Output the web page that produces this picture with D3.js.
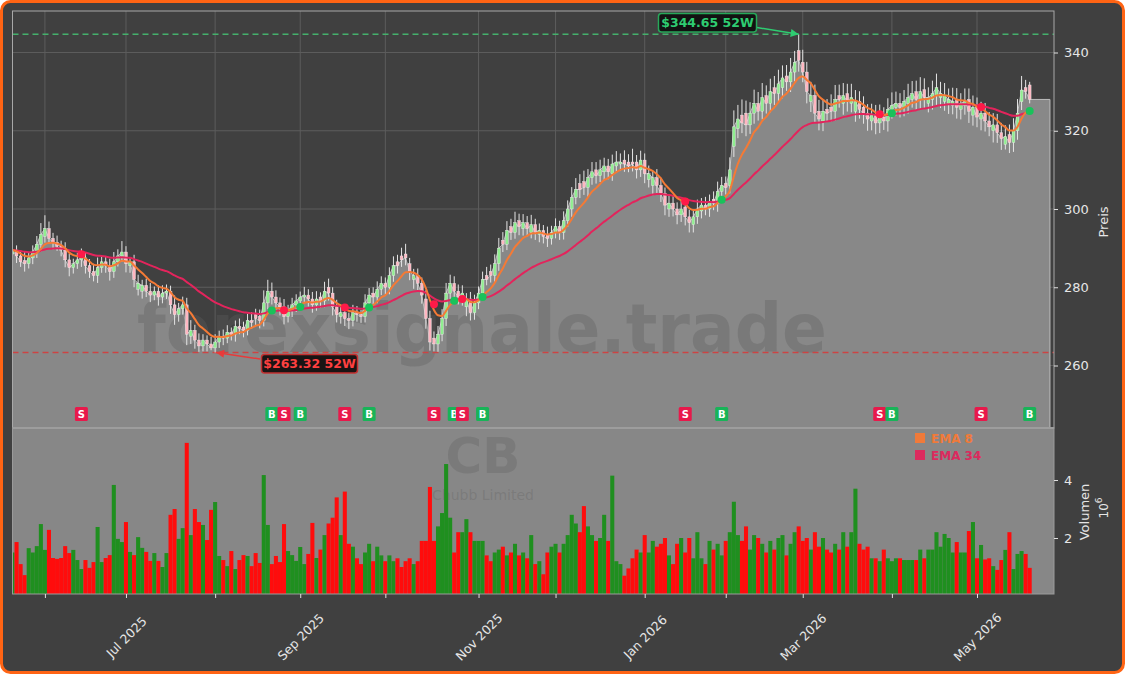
<!DOCTYPE html>
<html>
<head>
<meta charset="utf-8">
<script src="https://cdn.jsdelivr.net/npm/d3@7"></script>
<style>
  body { margin: 0; background: #ffffff; }
  svg { display: block; }
  text { font-family: "DejaVu Sans", sans-serif; }
</style>
</head>
<body>
<svg id="chart" width="1125" height="674"></svg>
<script>
// ---- data ----
var holidays = ['2025-05-26', '2025-06-19', '2025-07-04', '2025-09-01', '2025-11-27',
    '2025-12-25', '2026-01-01', '2026-01-19', '2026-02-16', '2026-04-03'];

var opens = [
    288.5, 289.5, 288, 286.8, 286, 287.5, 289, 291, 293, 295,
    292.5, 291.5, 290.8, 289.5, 287, 285, 286, 287, 287.5, 285.5,
    284, 283, 285, 286.5, 285.5, 284, 286.5, 288, 289, 285.5,
    286.5, 279.5, 279, 280.5, 279, 278, 279, 277.5, 278.5, 279,
    275.5, 273, 274.5, 275.5, 267.5, 269, 266.5, 265, 266.5, 265.5,
    264.5, 266, 267.5, 267, 268.5, 268, 270, 269.8, 269, 271.5,
    273, 272.5, 271.5, 276, 279, 277.5, 276, 275, 272.5, 274,
    275.5, 276.5, 277.5, 278, 277, 275.5, 277.5, 276.5, 280, 278.5,
    275, 272.5, 273.5, 272, 271.5, 273.5, 273, 272.5, 276, 278.5,
    277.5, 279.5, 281, 280, 283, 286.5, 288, 288.5, 286, 282,
    283, 281, 277, 272, 267, 265.5, 268, 272, 278.5, 281,
    279, 277.5, 275, 277, 273.5, 276, 278.5, 283, 284, 283,
    286, 292, 291, 295.5, 294, 297, 295, 296.5, 294, 296,
    293.5, 294.5, 293.5, 292.5, 294, 295.5, 294, 297, 300, 303,
    306.5, 307, 305.5, 308, 310, 308.5, 309.5, 311, 309, 311,
    311.5, 312.5, 312, 312, 312, 310, 312.5, 307.5, 306, 308,
    306, 304, 300, 301.5, 300, 298.5, 300.5, 298, 296, 298,
    299.5, 301, 300, 302.5, 301.5, 304.5, 306.5, 306, 316, 320.5,
    324, 324.5, 321.5, 324.5, 327, 325, 329, 327, 331, 329.5,
    331, 334, 332.5, 335, 340.5, 337.5, 335, 327.5, 329, 325,
    322.5, 325.5, 326, 325, 329, 327, 329.5, 327, 325, 327.5,
    326, 324.5, 322.5, 324, 322, 323.5, 322.5, 325.5, 326, 327,
    326, 327, 328, 330, 328, 330.5, 327, 328, 329, 328.5,
    327.5, 327, 326.5, 328, 325.5, 326.5, 328, 324, 326, 323,
    324.5, 322.5, 320, 321.5, 319.5, 316.5, 319, 317, 320, 327.4, 331, 331.7
];

var closes = [
    289.5, 288, 286.5, 286, 287.5, 289, 291, 293.5, 295, 292.5,
    291.5, 290.5, 289.5, 287, 285, 286, 287, 287.5, 285.5, 284,
    283, 285, 286.5, 285.5, 284, 286.5, 288, 289, 286, 286.5,
    282, 281, 280.5, 279, 278, 279, 277.5, 278.5, 279, 275.5,
    273, 274.5, 275.5, 268, 269, 266.5, 265, 266.5, 265.5, 264.5,
    266, 267.5, 267, 268.5, 268, 270, 269.5, 269, 271.5, 271,
    272, 271.5, 276, 279, 277.5, 276, 275, 272.5, 274, 275.5,
    276.5, 277.5, 278, 277, 275.5, 277, 276.5, 279, 278.5, 275,
    273, 273.5, 272, 271.5, 273.5, 273, 272.5, 276, 278, 277.5,
    279.5, 281, 280, 283, 285.5, 285.5, 287, 287.5, 284, 283,
    281, 278, 272, 266, 265.5, 268, 272, 278.5, 281, 279,
    277.5, 278.5, 277, 273.5, 276, 278.5, 282, 282, 283, 286,
    290, 291, 294.5, 294, 296.5, 295.5, 296.5, 295, 296, 294,
    294.5, 293, 292.5, 294, 295.5, 294, 297, 300, 303, 305,
    305, 305.5, 308, 309.5, 308.5, 310, 311, 309.5, 311.5, 312,
    312, 311.5, 311, 311.5, 310, 312.5, 309, 309, 308, 306,
    304, 301, 301.5, 300, 298.5, 300, 298, 296.5, 298, 300,
    301, 300, 302, 301.5, 304.5, 306, 305.5, 310, 321, 323,
    322, 321.5, 324.5, 327, 325, 328.5, 327, 330, 329.5, 332,
    333.5, 332.5, 335, 337.5, 338, 335, 330, 329, 324.5, 323,
    325, 324.5, 325, 328, 328, 329, 327.5, 328.5, 327.5, 325.5,
    324.5, 323, 324, 322, 323.5, 322.5, 325.5, 326.5, 327, 326,
    327.5, 328.5, 329.5, 328, 330, 328.5, 328.5, 329.5, 331, 329.5,
    329, 328, 327.5, 326, 327, 327.5, 325, 326, 323.5, 324.5,
    322.5, 321, 321.5, 319.5, 318, 318.5, 317, 320, 324.5, 330.4, 330, 328
];

// wick lengths above the body top / below the body bottom, in $
var upperWicks = [
    1.8, 1.2, 1.5, 2.2, 1.4, 1.7, 2.1, 2.9, 3.4, 1.8,
    1.4, 1.7, 1.1, 2.0, 1.5, 1.3, 1.8, 2.4, 1.4, 1.7,
    2.0, 2.6, 1.5, 1.4, 1.8, 2.5, 1.7, 2.8, 1.5, 1.2,
    1.8, 2.2, 1.4, 1.7, 2.1, 1.2, 1.5, 2.0, 1.7, 1.4,
    2.4, 1.5, 2.1, 1.8, 2.6, 1.4, 1.7, 1.5, 1.2, 1.8,
    2.0, 1.4, 1.7, 1.8, 1.2, 1.5, 2.0, 1.4, 1.7, 2.1,
    1.5, 1.8, 3.2, 2.9, 2.2, 1.7, 1.4, 2.0, 1.5, 1.8,
    1.7, 1.4, 2.1, 1.5, 1.8, 2.0, 1.2, 2.4, 2.2, 1.5,
    1.8, 2.1, 1.4, 1.5, 2.0, 1.7, 1.2, 2.2, 1.8, 1.5,
    2.0, 1.8, 1.5, 2.1, 2.4, 1.8, 2.1, 2.6, 1.5, 1.7,
    1.8, 1.5, 2.2, 2.0, 1.7, 2.1, 2.4, 2.6, 2.2, 1.8,
    1.7, 2.0, 1.5, 1.8, 2.1, 1.7, 2.0, 2.2, 1.8, 2.4,
    2.6, 2.1, 2.4, 2.0, 2.8, 1.8, 2.2, 1.7, 2.5, 1.5,
    1.8, 1.4, 2.0, 1.7, 2.1, 1.5, 2.4, 2.2, 2.6, 2.9,
    2.4, 2.8, 2.2, 2.5, 2.0, 2.6, 2.1, 1.8, 2.4, 2.8,
    2.2, 2.5, 2.0, 3.4, 1.8, 2.4, 1.7, 2.1, 1.8, 2.2,
    2.0, 1.5, 2.1, 1.8, 1.7, 2.2, 1.5, 1.8, 2.0, 2.4,
    1.8, 2.1, 1.7, 2.0, 2.5, 2.2, 1.8, 3.2, 4.2, 3.6,
    4.0, 3.2, 2.8, 3.5, 2.9, 3.7, 2.6, 3.3, 3.0, 3.6,
    3.2, 2.8, 3.6, 2.9, 4.15, 3.2, 2.6, 3.5, 2.8, 2.9,
    3.0, 2.6, 3.3, 3.7, 2.8, 3.2, 2.5, 3.5, 2.9, 2.6,
    2.8, 2.3, 2.9, 2.6, 3.2, 2.5, 2.8, 3.3, 3.0, 2.6,
    2.9, 3.5, 3.2, 2.8, 3.7, 2.9, 2.6, 3.3, 3.6, 3.0,
    3.2, 2.8, 3.5, 2.9, 2.6, 3.3, 2.8, 3.0, 2.5, 2.9,
    2.6, 2.3, 3.0, 2.8, 2.5, 2.9, 2.6, 3.2, 3.6, 3.6, 2.0, 0.8
];
var lowerWicks = [
    1.5, 1.8, 1.3, 2.0, 1.2, 1.6, 1.5, 1.9, 1.6, 1.3,
    1.8, 1.2, 1.6, 1.9, 2.2, 1.5, 1.3, 1.8, 2.0, 1.6,
    1.5, 1.9, 1.3, 1.8, 2.3, 1.6, 1.2, 1.5, 2.2, 1.8,
    2.0, 1.6, 1.9, 1.5, 1.8, 1.3, 2.2, 1.6, 1.5, 2.3,
    2.6, 1.8, 1.5, 2.8, 2.0, 2.2, 1.5, 1.4, 1.9, 0.6,
    1.18, 1.5, 1.8, 1.3, 1.6, 1.9, 1.5, 1.8, 1.3, 1.6,
    1.8, 2.0, 1.5, 1.6, 1.9, 1.8, 2.2, 2.0, 1.5, 1.6,
    1.8, 1.5, 1.6, 1.9, 2.0, 1.5, 1.8, 1.6, 1.9, 2.2,
    2.0, 1.8, 1.9, 2.2, 1.5, 1.8, 1.6, 1.5, 1.9, 1.8,
    1.6, 1.5, 1.9, 1.8, 1.6, 2.0, 1.8, 1.9, 2.2, 2.4,
    1.9, 2.2, 2.6, 2.2, 1.9, 2.0, 1.8, 1.9, 1.6, 2.0,
    1.9, 2.2, 2.4, 2.0, 1.8, 1.6, 1.9, 1.5, 1.8, 1.6,
    1.8, 2.0, 1.5, 1.9, 1.6, 2.2, 1.8, 2.0, 1.5, 1.9,
    2.0, 1.8, 2.2, 1.6, 1.5, 1.9, 1.8, 1.6, 2.0, 1.8,
    2.2, 1.9, 2.4, 1.8, 2.0, 1.6, 2.2, 1.9, 1.8, 1.5,
    1.8, 2.0, 1.6, 1.9, 2.2, 1.8, 2.4, 2.0, 2.5, 1.9,
    2.2, 2.6, 2.0, 1.9, 2.4, 1.8, 2.2, 2.5, 2.0, 1.8,
    1.9, 1.6, 2.0, 1.8, 2.2, 1.9, 1.8, 2.0, 2.7, 2.4,
    2.6, 2.9, 2.3, 2.7, 2.4, 2.1, 2.6, 2.3, 2.9, 2.4,
    2.7, 2.3, 2.6, 2.4, 2.9, 2.6, 3.0, 2.7, 2.4, 2.9,
    2.6, 2.3, 2.7, 2.4, 2.1, 2.9, 2.6, 2.3, 2.7, 2.4,
    2.7, 3.0, 2.4, 2.9, 2.6, 2.3, 2.7, 2.4, 2.1, 2.6,
    2.3, 2.6, 2.1, 2.7, 2.4, 2.9, 2.3, 2.6, 2.4, 2.7,
    2.4, 2.7, 2.3, 2.9, 2.6, 2.4, 3.0, 2.7, 2.6, 2.9,
    2.7, 2.4, 3.0, 2.6, 2.9, 1.3, 2.7, 2.4, 2.3, 2.1, 1.8, 1.0
];

// volume in millions
var volumes = [
    1.5, 1.86, 1.1, 0.72, 1.65, 1.5, 1.72, 2.48, 1.59, 2.28,
    1.31, 1.28, 1.31, 1.72, 1.48, 1.59, 1.24, 0.93, 1.24, 0.97,
    1.17, 2.38, 1.17, 1.31, 1.41, 3.83, 1.97, 1.86, 2.55, 1.52,
    1.41, 2.03, 1.66, 1.52, 1.21, 1.48, 1.21, 1.0, 1.48, 2.8,
    3.0, 1.97, 2.34, 5.28, 2.1, 3.0, 2.55, 2.45, 1.93, 2.97,
    3.24, 1.38, 1.24, 1.03, 1.55, 0.93, 1.24, 1.41, 1.38, 1.03,
    1.48, 1.14, 4.17, 2.45, 1.1, 1.38, 1.17, 2.48, 1.55, 1.41,
    1.21, 1.69, 1.1, 1.45, 2.52, 1.31, 1.6, 2.1, 2.5, 2.7,
    3.4, 2.1, 3.6, 1.8, 1.7, 1.3, 1.1, 1.5, 1.8, 1.2,
    1.7, 1.4, 1.2, 1.4, 1.2, 1.3, 1.0, 1.2, 1.3, 1.1,
    1.2, 1.9, 1.9, 3.76, 1.9, 2.4, 2.86, 4.55, 2.7, 1.5,
    2.2, 2.2, 2.65, 2.2, 1.9, 1.9, 1.9, 1.4, 1.2, 1.5,
    1.6, 1.7, 1.4, 1.5, 1.8, 1.4, 1.5, 1.3, 2.1, 1.1,
    1.2, 0.75, 1.5, 1.7, 1.8, 1.5, 1.8, 2.1, 2.8, 2.5,
    2.2, 3.1, 2.4, 2.1, 1.9, 2.0, 2.8, 1.9, 4.15, 1.2,
    1.1, 0.7, 0.95, 1.3, 1.6, 1.5, 2.1, 1.5, 1.9, 1.7,
    1.8, 2.0, 1.4, 1.1, 1.8, 2.0, 1.5, 2.0, 1.3, 2.2,
    1.3, 1.1, 1.9, 1.6, 1.8, 1.4, 1.9, 2.2, 3.25, 2.1,
    1.9, 2.4, 1.6, 2.1, 2.0, 1.8, 1.5, 1.9, 1.6, 2.0,
    2.1, 1.4, 1.8, 2.2, 2.4, 1.9, 2.0, 1.6, 2.2, 1.7,
    2.0, 1.6, 1.5, 1.8, 1.6, 2.2, 1.7, 2.2, 3.7, 1.8,
    1.6, 1.7, 1.3, 1.3, 1.2, 1.6, 1.3, 1.2, 1.3, 1.3,
    1.24, 1.24, 1.24, 1.24, 1.6, 1.3, 1.6, 1.6, 2.2, 1.7,
    2.14, 2.0, 1.5, 1.86, 1.5, 1.5, 2.24, 2.55, 1.3, 1.76,
    1.26, 1.3, 1.03, 0.9, 1.24, 1.59, 2.2, 0.93, 1.45, 1.55, 1.45, 0.97
];

// EMA crossover signals: bar index and type
var signalIdx = [17, 64, 67, 71, 82, 88, 104, 109, 111, 116, 166, 175, 214, 217, 239, 251];
var signalType = ['S', 'B', 'S', 'B', 'S', 'B', 'S', 'B', 'S', 'B', 'S', 'B', 'S', 'B', 'S', 'B'];

var priceTicks = [260, 280, 300, 320, 340];
var volumeTicks = [2, 4];
var high52 = 344.65, low52 = 263.32;
var high52Idx = 194, low52Idx = 50;

// trading day calendar
var fmtKey = d3.timeFormat('%Y-%m-%d');
var dates = [];
for (var d = new Date(2025, 4, 20); d <= new Date(2026, 4, 20); d.setDate(d.getDate() + 1)) {
    var dow = d.getDay();
    if (dow === 0 || dow === 6) continue;
    if (holidays.indexOf(fmtKey(d)) >= 0) continue;
    dates.push(new Date(d));
}

var bars = closes.map(function (c, i) {
    var o = opens[i];
    return {
        i: i, date: dates[i], o: o, c: c,
        h: Math.max(o, c) + upperWicks[i],
        l: Math.min(o, c) - lowerWicks[i],
        v: volumes[i],
        up: c >= o
    };
});

function ema(values, n) {
    var k = 2 / (n + 1), prev, out = [];
    values.forEach(function (v, i) {
        prev = i === 0 ? v : v * k + prev * (1 - k);
        out.push(prev);
    });
    return out;
}
var ema8 = ema(closes, 8);
var ema34 = ema(closes, 34);

// ---- layout ----
var W = 1125, H = 674;
var pad = { l: 12.5, r: 1054, t: 11, mid: 428, b: 594 };

var svg = d3.select('#chart');

svg.append('rect')
    .attr('x', 1.5).attr('y', 1.5)
    .attr('width', W - 3).attr('height', H - 3)
    .attr('rx', 9)
    .attr('fill', '#404040')
    .attr('stroke', '#ff6414')
    .attr('stroke-width', 3);

var defs = svg.append('defs');
defs.append('clipPath').attr('id', 'clipPrice').append('rect')
    .attr('x', pad.l).attr('y', pad.t).attr('width', pad.r - pad.l).attr('height', pad.mid - pad.t);
defs.append('clipPath').attr('id', 'clipVol').append('rect')
    .attr('x', pad.l).attr('y', pad.mid).attr('width', pad.r - pad.l).attr('height', pad.b - pad.mid);

function arrowMarker(id, color) {
    defs.append('marker')
        .attr('id', id)
        .attr('viewBox', '0 0 10 10')
        .attr('refX', 10).attr('refY', 5)
        .attr('markerWidth', 9).attr('markerHeight', 8)
        .attr('markerUnits', 'userSpaceOnUse')
        .attr('orient', 'auto')
        .append('path').attr('d', 'M0,0 L10,5 L0,10 z').attr('fill', color);
}
arrowMarker('arrHigh', '#2ecc71');
arrowMarker('arrLow', '#e83a3a');

// scales
var x = d3.scaleLinear().domain([0, 257]).range([pad.l, pad.r]);
var yPrice = d3.scaleLinear().domain([260, 340]).range([365.5, 52.5]);
var yVol = d3.scaleLinear().domain([0, 4]).range([596, 480]);

// month ticks = first trading day of each month
var monthIdx = [];
for (var i = 1; i < dates.length; i++) {
    if (dates[i].getMonth() !== dates[i - 1].getMonth()) monthIdx.push(i);
}
var fmtMonth = d3.timeFormat('%b %Y');

// ---- price panel ----
var priceG = svg.append('g');

priceG.selectAll('.vgrid')
    .data(monthIdx)
    .enter().append('line')
    .attr('x1', function (d) { return x(d); })
    .attr('x2', function (d) { return x(d); })
    .attr('y1', pad.t).attr('y2', pad.mid)
    .attr('stroke', '#5c5c5c').attr('stroke-width', 1);

priceG.selectAll('.hgrid')
    .data(priceTicks)
    .enter().append('line')
    .attr('x1', pad.l).attr('x2', pad.r)
    .attr('y1', function (d) { return yPrice(d); })
    .attr('y2', function (d) { return yPrice(d); })
    .attr('stroke', '#5c5c5c').attr('stroke-width', 1);

var plotG = priceG.append('g').attr('clip-path', 'url(#clipPrice)');

var areaData = bars.map(function (b) { return { i: b.i, c: b.c }; });
areaData.push({ i: 256, c: closes[closes.length - 1] });

plotG.append('path')
    .datum(areaData)
    .attr('fill', '#888888')
    .attr('stroke', '#bdbdbd')
    .attr('stroke-width', 1)
    .attr('d', d3.area()
        .x(function (d) { return x(d.i); })
        .y0(pad.mid + 2)
        .y1(function (d) { return yPrice(d.c); }));

plotG.append('text')
    .attr('x', 482).attr('y', 352)
    .attr('text-anchor', 'middle')
    .attr('font-size', 68)
    .attr('font-weight', 'bold')
    .attr('textLength', 690)
    .attr('lengthAdjust', 'spacingAndGlyphs')
    .attr('fill', '#5e5e5e')
    .attr('fill-opacity', 0.35)
    .text('forexsignale.trade');

// 52 week lines
plotG.append('line')
    .attr('x1', pad.l).attr('x2', pad.r)
    .attr('y1', yPrice(high52)).attr('y2', yPrice(high52))
    .attr('stroke', '#45b06c').attr('stroke-width', 1.5)
    .attr('stroke-dasharray', '6,4');
plotG.append('line')
    .attr('x1', pad.l).attr('x2', pad.r)
    .attr('y1', yPrice(low52)).attr('y2', yPrice(low52))
    .attr('stroke', '#cc4444').attr('stroke-width', 1.5)
    .attr('stroke-dasharray', '6,4');

// candles
var candle = plotG.selectAll('.candle')
    .data(bars)
    .enter().append('g')
    .attr('class', 'candle');

candle.append('line')
    .attr('x1', function (d) { return x(d.i); })
    .attr('x2', function (d) { return x(d.i); })
    .attr('y1', function (d) { return yPrice(d.h); })
    .attr('y2', function (d) { return yPrice(d.l); })
    .attr('stroke', '#e4e4e4')
    .attr('stroke-width', 1);

candle.append('rect')
    .attr('x', function (d) { return x(d.i) - 1.4; })
    .attr('width', 2.8)
    .attr('y', function (d) { return yPrice(Math.max(d.o, d.c)); })
    .attr('height', function (d) { return Math.max(1, Math.abs(yPrice(d.o) - yPrice(d.c))); })
    .attr('fill', function (d) { return d.up ? '#90ee90' : '#ffb6c1'; })
    .attr('stroke', '#eeeeee')
    .attr('stroke-width', 0.4);

// EMA lines
var emaLine = d3.line()
    .x(function (d, i) { return x(i); })
    .y(function (d) { return yPrice(d); })
    .curve(d3.curveMonotoneX);

plotG.append('path').datum(ema34)
    .attr('fill', 'none').attr('stroke', '#e3245c').attr('stroke-width', 2)
    .attr('d', emaLine);
plotG.append('path').datum(ema8)
    .attr('fill', 'none').attr('stroke', '#f57a35').attr('stroke-width', 2)
    .attr('d', emaLine);

// crossover dots
plotG.selectAll('.xdot')
    .data(signalIdx)
    .enter().append('circle')
    .attr('cx', function (d) { return x(d); })
    .attr('cy', function (d) { return yPrice((ema8[d] + ema34[d]) / 2); })
    .attr('r', 4)
    .attr('fill', function (d, i) { return signalType[i] === 'S' ? '#ff1a48' : '#19c25a'; });

// signal boxes
var sig = plotG.selectAll('.sig')
    .data(signalIdx)
    .enter().append('g')
    .attr('transform', function (d) { return 'translate(' + [x(d), 414] + ')'; });
sig.append('rect')
    .attr('x', -6.5).attr('y', -7)
    .attr('width', 13).attr('height', 14)
    .attr('rx', 1.5)
    .attr('fill', function (d, i) { return signalType[i] === 'S' ? '#e8194b' : '#18b458'; });
sig.append('text')
    .attr('text-anchor', 'middle')
    .attr('dominant-baseline', 'central')
    .attr('font-size', 10)
    .attr('font-weight', 'bold')
    .attr('fill', '#ffffff')
    .text(function (d, i) { return signalType[i]; });

// panel border
priceG.append('rect')
    .attr('x', pad.l).attr('y', pad.t)
    .attr('width', pad.r - pad.l).attr('height', pad.mid - pad.t)
    .attr('fill', 'none').attr('stroke', '#a8a8a8').attr('stroke-width', 1);

// 52W annotations
var hx = x(high52Idx), hy = yPrice(high52);
svg.append('line')
    .attr('x1', 757).attr('y1', 27.5).attr('x2', hx).attr('y2', hy)
    .attr('stroke', '#2ecc71').attr('stroke-width', 1.5)
    .attr('marker-end', 'url(#arrHigh)');
svg.append('rect')
    .attr('x', 658.5).attr('y', 13.5).attr('width', 98).attr('height', 18.5).attr('rx', 3)
    .attr('fill', '#121212').attr('stroke', '#27a85a').attr('stroke-width', 1.5);
svg.append('text')
    .attr('x', 707.5).attr('y', 27)
    .attr('text-anchor', 'middle')
    .attr('font-size', 12.5).attr('font-weight', 'bold')
    .attr('fill', '#2ecc71')
    .text('$' + high52.toFixed(2) + ' 52W');

var lx = x(low52Idx) + 1, ly = yPrice(low52);
svg.append('line')
    .attr('x1', 260).attr('y1', 359).attr('x2', lx).attr('y2', ly)
    .attr('stroke', '#e83a3a').attr('stroke-width', 1.5)
    .attr('marker-end', 'url(#arrLow)');
svg.append('rect')
    .attr('x', 261.5).attr('y', 354.5).attr('width', 96).attr('height', 18.5).attr('rx', 3)
    .attr('fill', '#1a1414').attr('stroke', '#c23030').attr('stroke-width', 1.5);
svg.append('text')
    .attr('x', 309.5).attr('y', 368)
    .attr('text-anchor', 'middle')
    .attr('font-size', 12.5).attr('font-weight', 'bold')
    .attr('fill', '#ff4040')
    .text('$' + low52.toFixed(2) + ' 52W');

// ---- volume panel ----
var volG = svg.append('g');
volG.append('rect')
    .attr('x', pad.l).attr('y', pad.mid)
    .attr('width', pad.r - pad.l).attr('height', pad.b - pad.mid)
    .attr('fill', '#878787');

var volPlot = volG.append('g').attr('clip-path', 'url(#clipVol)');

volPlot.append('text')
    .attr('x', 483).attr('y', 473)
    .attr('text-anchor', 'middle')
    .attr('font-size', 50).attr('font-weight', 'bold')
    .attr('fill', '#5e5e5e').attr('fill-opacity', 0.3)
    .text('CB');
volPlot.append('text')
    .attr('x', 483).attr('y', 500)
    .attr('text-anchor', 'middle')
    .attr('font-size', 14)
    .attr('fill', '#5e5e5e').attr('fill-opacity', 0.3)
    .text('Chubb Limited');

volPlot.selectAll('.vbar')
    .data(bars)
    .enter().append('rect')
    .attr('x', function (d) { return x(d.i - 0.5); })
    .attr('width', x(1) - x(0))
    .attr('y', function (d) { return yVol(d.v); })
    .attr('height', function (d) { return yVol(0) - yVol(d.v); })
    .attr('fill', function (d) { return d.up ? '#1f8f1f' : '#ff0c0c'; });

volG.append('line')
    .attr('x1', pad.l).attr('x2', pad.r).attr('y1', pad.mid).attr('y2', pad.mid)
    .attr('stroke', '#a0a0a0').attr('stroke-width', 2);
volG.append('rect')
    .attr('x', pad.l).attr('y', pad.mid)
    .attr('width', pad.r - pad.l).attr('height', pad.b - pad.mid)
    .attr('fill', 'none').attr('stroke', '#9a9a9a').attr('stroke-width', 1);

// legend
var legend = [{ name: 'EMA 8', color: '#f07a3a' }, { name: 'EMA 34', color: '#dc2a5e' }];
var leg = volG.selectAll('.leg')
    .data(legend)
    .enter().append('g')
    .attr('transform', function (d, i) { return 'translate(' + [915, 433 + i * 17] + ')'; });
leg.append('rect').attr('width', 10).attr('height', 10).attr('fill', function (d) { return d.color; });
leg.append('text')
    .attr('x', 16).attr('y', 9.5)
    .attr('font-size', 12).attr('font-weight', 'bold')
    .attr('fill', function (d) { return d.color; })
    .text(function (d) { return d.name; });

// ---- axes ----
function styleAxis(g) {
    g.select('.domain').remove();
    g.selectAll('.tick line').attr('stroke', '#e0e0e0');
    g.selectAll('.tick text').attr('fill', '#e6e6e6').style('font-family', '"DejaVu Sans", sans-serif');
}

svg.append('g')
    .attr('transform', 'translate(' + pad.r + ',0)')
    .call(d3.axisRight(yPrice).tickValues(priceTicks).tickSize(4).tickPadding(6))
    .call(styleAxis)
    .selectAll('text').attr('font-size', 13);

svg.append('g')
    .attr('transform', 'translate(' + pad.r + ',0)')
    .call(d3.axisRight(yVol).tickValues(volumeTicks).tickSize(4).tickPadding(6).tickFormat(d3.format('d')))
    .call(styleAxis)
    .selectAll('text').attr('font-size', 13);

var xAxisG = svg.append('g')
    .attr('transform', 'translate(0,' + pad.b + ')')
    .call(d3.axisBottom(x).tickValues(monthIdx).tickSize(4)
        .tickFormat(function (i) {
            var m = dates[i].getMonth();
            return m % 2 === 0 ? fmtMonth(dates[i]) : '';
        }))
    .call(styleAxis);
xAxisG.selectAll('.tick text')
    .attr('font-size', 12.5)
    .attr('y', 0).attr('dy', 0)
    .attr('dominant-baseline', 'central')
    .attr('transform', 'translate(0,43) rotate(-45)')
    .style('text-anchor', 'middle');

svg.append('text')
    .attr('transform', 'translate(1103,222) rotate(-90)')
    .attr('text-anchor', 'middle')
    .attr('dominant-baseline', 'central')
    .attr('font-size', 13).attr('fill', '#e6e6e6')
    .text('Preis');

svg.append('text')
    .attr('transform', 'translate(1084,512) rotate(-90)')
    .attr('text-anchor', 'middle')
    .attr('dominant-baseline', 'central')
    .attr('font-size', 13).attr('fill', '#e6e6e6')
    .text('Volumen');

var pow = svg.append('text')
    .attr('transform', 'translate(1104,508) rotate(-90)')
    .attr('text-anchor', 'middle')
    .attr('dominant-baseline', 'central')
    .attr('font-size', 12).attr('fill', '#e6e6e6');
pow.append('tspan').text('10');
pow.append('tspan').attr('dy', -5).attr('font-size', 9).text('6');
</script>
</body>
</html>
